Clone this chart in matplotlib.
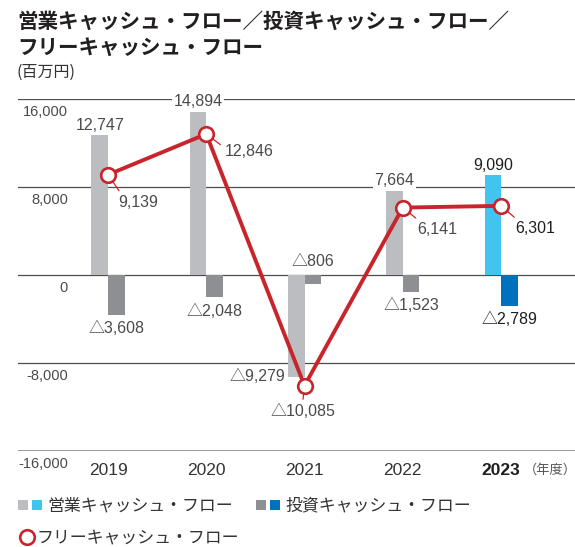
import matplotlib
matplotlib.use("Agg")
import matplotlib.pyplot as plt
import matplotlib.transforms as mtransforms
from matplotlib.patches import Rectangle
from matplotlib.lines import Line2D

# ------------------------
# Data (百万円)
# ------------------------
years = ["2019", "2020", "2021", "2022", "2023"]
operating_cf = [12747, 14894, -9279, 7664, 9090]
investing_cf = [-3608, -2048, -806, -1523, -2789]
free_cf = [9139, 12846, -10085, 6141, 6301]
y_ticks = [16000, 8000, 0, -8000, -16000]
y_tick_labels = ["16,000", "8,000", "0", "-8,000", "-16,000"]

# ------------------------
# Style
# ------------------------
W, H = 575, 547
JP = ["Noto Sans CJK JP", "DejaVu Sans"]
NUM = ["Liberation Sans", "Noto Sans CJK JP", "DejaVu Sans"]
GRAY_OP, GRAY_INV = "#bcbdc0", "#8e8f92"
BLUE_OP, BLUE_INV = "#41c5f0", "#0071bc"
RED = "#c8242b"
TXT = "#4a4a4a"
DARK = "#1e1e1e"
PT = 0.72  # points per pixel at dpi 100
LBL = 11.5


def fx(px):
    return px / W


def fy(py):
    return 1 - py / H


def fmt(v):
    return f"{v:,}" if v >= 0 else f"\u25b3{abs(v):,}"


fig = plt.figure(figsize=(W / 100, H / 100), dpi=100)
ax = fig.add_axes([fx(18), fy(450.6), (575 - 18) / W, (450.6 - 99.4) / H])
ax.set_ylim(-16000, 16000)
ax.set_xlim(-0.916, 4.753)
ax.axis("off")

x = list(range(len(years)))
w = 0.168
last = len(years) - 1
op_colors = [BLUE_OP if i == last else GRAY_OP for i in x]
inv_colors = [BLUE_INV if i == last else GRAY_INV for i in x]

# grid lines
for t in y_ticks[:-1]:
    ax.axhline(t, color="#4d4d4d", lw=0.9, zorder=0.5)
ax.axhline(y_ticks[-1], color="#858585", lw=1.9, zorder=0.5)

trans = mtransforms.blended_transform_factory(ax.transAxes, ax.transData)
for t, lbl in zip(y_ticks, y_tick_labels):
    ax.annotate(lbl, xy=(0.0898, t), xycoords=trans, xytext=(0, -13 * PT),
                textcoords="offset points", ha="right", va="center",
                fontsize=10.5, color=TXT, family=NUM)

# bars
ax.bar([i - w / 2 for i in x], operating_cf, w, color=op_colors, zorder=2)
ax.bar([i + w / 2 for i in x], investing_cf, w, color=inv_colors, zorder=2)

# bar labels
for i, v in enumerate(operating_cf):
    c = DARK if i == last else TXT
    if v >= 0:
        ax.annotate(fmt(v), xy=(i - w / 2, v), xytext=(0, 10 * PT),
                    textcoords="offset points", ha="center", va="center",
                    fontsize=LBL, color=c, family=NUM, zorder=3,
                    bbox=dict(fc="white", ec="none", pad=1.2))
    else:
        ax.annotate(fmt(v), xy=(i - w, v), xytext=(-3 * PT, 0),
                    textcoords="offset points", ha="right", va="center",
                    fontsize=LBL, color=c, family=NUM, zorder=3)

for i, v in enumerate(investing_cf):
    c = DARK if i == last else TXT
    if abs(v) < 1000:
        ax.annotate(fmt(v), xy=(i + w / 2, 0), xytext=(0, 13 * PT),
                    textcoords="offset points", ha="center", va="center",
                    fontsize=LBL, color=c, family=NUM, zorder=3)
    else:
        ax.annotate(fmt(v), xy=(i + w / 2, v), xytext=(0, -14 * PT),
                    textcoords="offset points", ha="center", va="center",
                    fontsize=LBL, color=c, family=NUM, zorder=3)

# free cash flow line
ax.plot(x, free_cf, color=RED, lw=2.8, marker="o", ms=10.5, mfc="white",
        mec=RED, mew=1.9, zorder=5, solid_joinstyle="miter")

fcf_offsets = [(30, 28), (43, 17), (-2, 26), (34, 22), (34, 23)]
fcf_relpos = [(0.1, 1.0), (0.0, 0.7), (0.5, 1.0), (0.1, 1.0), (0.1, 1.0)]
for i, v in enumerate(free_cf):
    dx, dy = fcf_offsets[i]
    c = DARK if i == last else TXT
    ax.annotate(fmt(v), xy=(i, v), xytext=(dx * PT, -dy * PT),
                textcoords="offset points", ha="center", va="center",
                fontsize=LBL, color=c, family=NUM, zorder=3,
                arrowprops=dict(arrowstyle="-", color=RED, lw=0.9,
                                shrinkA=1.5, shrinkB=0, relpos=fcf_relpos[i]))

# x labels
for i, yr in enumerate(years):
    bold = i == last
    ax.annotate(yr, xy=(i, -16000), xytext=(0, -19.5 * PT),
                textcoords="offset points", ha="center", va="center",
                fontsize=12.5, family=NUM,
                weight="bold" if bold else "normal",
                color=DARK if bold else "#333333")
fig.text(fx(550), fy(470), "（年度）", ha="center", va="center",
         fontsize=9.5, color="#555555", family=JP)

# title
fig.text(fx(17), fy(21), "営業キャッシュ・フロー／投資キャッシュ・フロー／",
         ha="left", va="center", fontsize=14.8, weight="bold",
         color="#231f20", family=JP)
fig.text(fx(17), fy(47), "フリーキャッシュ・フロー",
         ha="left", va="center", fontsize=14.8, weight="bold",
         color="#231f20", family=JP)
fig.text(fx(17), fy(72), "(百万円)", ha="left", va="center",
         fontsize=11.5, color="#333333", family=JP)


# legend
def square(px, py, color, size=10):
    fig.add_artist(Rectangle((fx(px), fy(py + size)), size / W, size / H,
                             transform=fig.transFigure, color=color, lw=0))


square(18, 500, GRAY_OP)
square(32, 500, BLUE_OP)
fig.text(fx(47), fy(505), "営業キャッシュ・フロー", ha="left", va="center",
         fontsize=12.2, color="#333333", family=JP)
square(256, 500, GRAY_INV)
square(270, 500, BLUE_INV)
fig.text(fx(285), fy(505), "投資キャッシュ・フロー", ha="left", va="center",
         fontsize=12.2, color="#333333", family=JP)
fig.add_artist(Line2D([fx(27)], [fy(537)], transform=fig.transFigure,
                      marker="o", ms=10.5, mfc="white", mec=RED, mew=1.9))
fig.text(fx(37), fy(537), "フリーキャッシュ・フロー", ha="left", va="center",
         fontsize=12.2, color="#333333", family=JP)

fig.savefig("out.png", dpi=100)
